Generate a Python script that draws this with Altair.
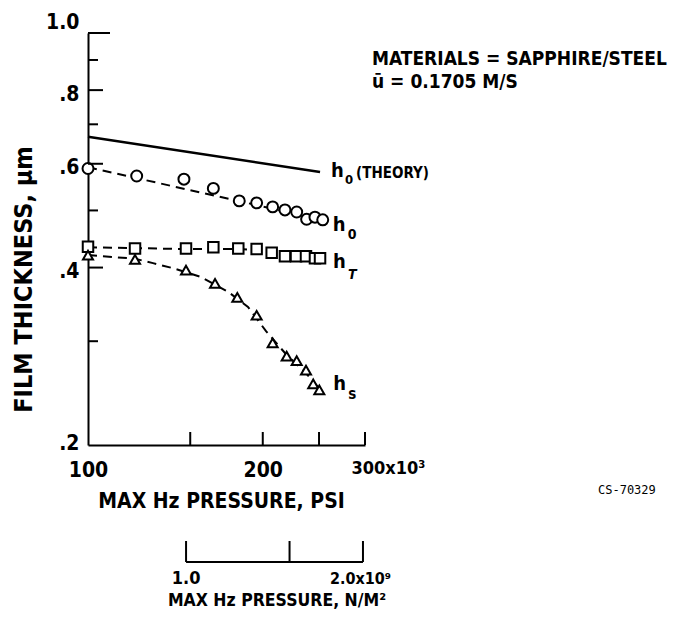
import altair as alt
import pandas as pd

FONT = "DejaVu Sans Condensed, Liberation Sans Narrow, DejaVu Sans, sans-serif"
MONO = "DejaVu Sans Mono, Liberation Mono, monospace"

# ---------------- data ----------------
# max Hertz pressure in units of 10^3 psi ; film thickness in micrometres
p_theory = [100, 251]
h0_theory = [0.667, 0.581]

p_circ = [100, 121.3, 146.3, 164.4, 182.2, 195.2, 208.0, 218.4, 228.8, 238.0, 246.0, 253.7]
h0_meas = [0.589, 0.572, 0.565, 0.545, 0.519, 0.515, 0.507, 0.501, 0.497, 0.483, 0.487, 0.482]

p_sq = [100, 120.5, 147.5, 164.4, 181.5, 195.2, 207.2, 218.4, 228.2, 237.4, 246.0, 251.0]
hT_meas = [0.434, 0.431, 0.431, 0.433, 0.431, 0.430, 0.424, 0.418, 0.418, 0.418, 0.415, 0.415]

p_tri = [100, 120.5, 147.5, 165.5, 180.8, 195.2, 208.0, 219.9, 228.8, 237.4, 244.3, 250.3]
hs_meas = [0.420, 0.413, 0.396, 0.376, 0.356, 0.332, 0.298, 0.283, 0.278, 0.268, 0.254, 0.248]

# faired (dashed) curves
p_fit_h0 = [100, 253.2]
h0_fit = [0.592, 0.482]
p_fit_hT = [100, 147.5, 182.7, 197.8, 218.4, 253.2]
hT_fit = [0.433, 0.430, 0.430, 0.428, 0.422, 0.415]
p_fit_hs = [100, 120.5, 129.4, 140.1, 156.0, 174.2, 188.6, 202.6, 220.1, 236.4, 253.2]
hs_fit = [0.420, 0.414, 0.407, 0.399, 0.386, 0.364, 0.343, 0.312, 0.284, 0.266, 0.246]

# axis ticks
x_label_vals = [100, 200, 300]
x_tick_vals = [150, 200, 250, 300]
y_label_vals = [0.2, 0.4, 0.6, 0.8, 1.0]
y_major_ticks = [0.4, 0.6, 0.8]
y_minor_ticks = [0.3, 0.5, 0.7, 0.9]
y_top_tick = [1.0]

# secondary pressure scale, 10^9 N/m^2
nm2_ticks = [1.0, 1.5, 2.0]
nm2_labels = ["1.0", "2.0x10⁹"]
nm2_label_vals = [1.0, 2.0]

series_names = ["h0", "hT", "hs"]

# ---------------- scales / axes ----------------
xscale = alt.Scale(type="log", domain=[100, 300])
yscale = alt.Scale(type="log", domain=[0.2, 1.0])

x_axis = alt.Axis(
    values=x_label_vals, ticks=False, grid=False, domain=True,
    domainColor="black", domainWidth=2,
    labelExpr="datum.value >= 299 ? '300x10³' : format(datum.value, 'd')",
    labelAlign={"condition": {"test": "datum.value >= 299", "value": "left"}, "value": "center"},
    labelOffset={"condition": {"test": "datum.value >= 299", "value": -14}, "value": 0},
    labelFontSize={"condition": {"test": "datum.value >= 299", "value": 18}, "value": 21},
    labelFont=FONT, labelFontWeight="bold", labelColor="black",
    labelPadding=14, labelFlush=False, labelOverlap=False, labelBound=False,
    title="MAX Hz PRESSURE, PSI", titleFont=FONT, titleFontSize=21,
    titleFontWeight="bold", titleColor="black",
    titleX=133, titleY=56, titleAlign="center", titleBaseline="middle",
)
y_axis = alt.Axis(
    values=y_label_vals, ticks=False, grid=False, domain=True,
    domainColor="black", domainWidth=2,
    labelExpr="datum.value >= 0.99 ? '1.0' : '.' + round(datum.value * 10)",
    labelOffset={"condition": [{"test": "datum.value >= 0.99", "value": -11},
                               {"test": "datum.value < 0.3", "value": -2}], "value": 4},
    labelFont=FONT, labelFontSize=21, labelFontWeight="bold", labelColor="black",
    labelPadding=9, labelFlush=False, labelOverlap=False, labelBound=False,
    title="FILM THICKNESS, µm", titleFont=FONT, titleFontSize=25,
    titleFontWeight="bold", titleColor="black",
    titleX=-65, titleY=246, titleAngle=270, titleAlign="center", titleBaseline="middle",
)


def X():
    return alt.X("p:Q", scale=xscale, axis=x_axis)


def Y():
    return alt.Y("h:Q", scale=yscale, axis=y_axis)


# ---------------- tables ----------------
df_theory = pd.DataFrame({"p": p_theory, "h": h0_theory})

df_fit = pd.concat([
    pd.DataFrame({"p": p_fit_h0, "h": h0_fit, "series": "h0"}),
    pd.DataFrame({"p": p_fit_hT, "h": hT_fit, "series": "hT"}),
    pd.DataFrame({"p": p_fit_hs, "h": hs_fit, "series": "hs"}),
], ignore_index=True)

df_pts = pd.concat([
    pd.DataFrame({"p": p_circ, "h": h0_meas, "series": "h0"}),
    pd.DataFrame({"p": p_sq, "h": hT_meas, "series": "hT"}),
    pd.DataFrame({"p": p_tri, "h": hs_meas, "series": "hs"}),
], ignore_index=True)

# ---------------- layers ----------------
theory = alt.Chart(df_theory).mark_line(color="black", strokeWidth=2.5).encode(x=X(), y=Y())

fits = alt.Chart(df_fit).mark_line(
    color="black", strokeWidth=2, strokeDash=[9, 6]
).encode(x=X(), y=Y(), detail="series:N")

points = alt.Chart(df_pts).mark_point(
    filled=False, fill="white", fillOpacity=1, color="black", strokeWidth=2, opacity=1
).encode(
    x=X(), y=Y(),
    shape=alt.Shape("series:N", scale=alt.Scale(domain=series_names,
                    range=["circle", "square", "triangle-up"]), legend=None),
    size=alt.Size("series:N", scale=alt.Scale(domain=series_names, range=[120, 100, 135]),
                  legend=None),
)


def yticks(vals, length):
    return alt.Chart(pd.DataFrame({"h": vals})).mark_rule(
        color="black", strokeWidth=2
    ).encode(y=Y(), x=alt.value(0), x2=alt.value(length))


xticks = alt.Chart(pd.DataFrame({"p": x_tick_vals})).mark_rule(
    color="black", strokeWidth=2
).encode(x=X(), y=alt.value(412), y2=alt.value(399))


def txt(p, h, text, dx, dy, size, baseline="alphabetic", style="normal", weight="bold"):
    return alt.Chart(pd.DataFrame({"p": [p], "h": [h]})).mark_text(
        text=text, align="left", baseline=baseline, dx=dx, dy=dy,
        font=FONT, fontSize=size, fontStyle=style, fontWeight=weight, color="black"
    ).encode(x=X(), y=Y())


labels = [
    # theory label
    txt(p_theory[-1], h0_theory[-1], "h", 11, 5, 20),
    txt(p_theory[-1], h0_theory[-1], "0", 25, 12, 13),
    txt(p_theory[-1], h0_theory[-1], "(THEORY)", 36, 1, 15, baseline="middle"),
    # measured curves
    txt(p_circ[-1], h0_meas[-1], "h", 10, 11, 20),
    txt(p_circ[-1], h0_meas[-1], "0", 25, 19, 14),
    txt(p_sq[-1], hT_meas[-1], "h", 13, 10, 20),
    txt(p_sq[-1], hT_meas[-1], "T", 28, 21, 14, style="italic"),
    txt(p_tri[-1], hs_meas[-1], "h", 14, 0, 20),
    txt(p_tri[-1], hs_meas[-1], "s", 29, 9, 15),
]


def note(text, x, y, size, font=FONT, align="left", weight="bold"):
    return alt.Chart(pd.DataFrame({"t": [text]})).mark_text(
        align=align, baseline="middle", font=font, fontSize=size, fontWeight=weight,
        color="black"
    ).encode(text="t:N", x=alt.value(x), y=alt.value(y))


notes = [
    note("MATERIALS = SAPPHIRE/STEEL", 284, 26, 19),
    note("ū = 0.1705 M/S", 284, 49, 19),
    note("CS-70329", 510, 457, 12, font=MONO, weight="normal"),
]

main = alt.layer(
    fits, theory, points,
    yticks(y_major_ticks, 15), yticks(y_minor_ticks, 10), yticks(y_top_tick, 22),
    xticks, *labels, *notes,
)

# ---------------- secondary scale bracket (N/m^2) ----------------
nscale = alt.Scale(type="log", domain=[0.681, 2.016])
df_n = pd.DataFrame({"n": nm2_ticks})
df_nspan = pd.DataFrame({"n": [min(nm2_ticks)], "n2": [max(nm2_ticks)]})
df_nlab = pd.DataFrame({"n": nm2_label_vals, "lab": nm2_labels})

br_line = alt.Chart(df_nspan).mark_rule(color="black", strokeWidth=2).encode(
    x=alt.X("n:Q", scale=nscale, axis=None), x2="n2:Q", y=alt.value(529))
br_ticks = alt.Chart(df_n).mark_rule(color="black", strokeWidth=2).encode(
    x=alt.X("n:Q", scale=nscale, axis=None), y=alt.value(529), y2=alt.value(508))
br_lab1 = alt.Chart(df_nlab.iloc[[0]]).mark_text(
    align="center", baseline="middle", font=FONT, fontSize=18, fontWeight="bold", color="black"
).encode(x=alt.X("n:Q", scale=nscale, axis=None), y=alt.value(546), text="lab:N")
br_lab2 = alt.Chart(df_nlab.iloc[[1]]).mark_text(
    align="left", baseline="middle", dx=-33, font=FONT, fontSize=16, fontWeight="bold",
    color="black"
).encode(x=alt.X("n:Q", scale=nscale, axis=None), y=alt.value(546), text="lab:N")
br_title = note("MAX Hz PRESSURE, N/M²", 189, 568, 17.5, align="center")

bracket = alt.layer(br_line, br_ticks, br_lab1, br_lab2, br_title)

chart = alt.layer(main, bracket).resolve_scale(x="independent").properties(
    width=277, height=412,
    autosize=alt.AutoSizeParams(type="none"),
    padding={"left": 88, "top": 33, "right": 310, "bottom": 185},
    background="white",
).configure_view(stroke=None)

chart.save("out.html", embed_options={"renderer": "svg", "actions": False})
